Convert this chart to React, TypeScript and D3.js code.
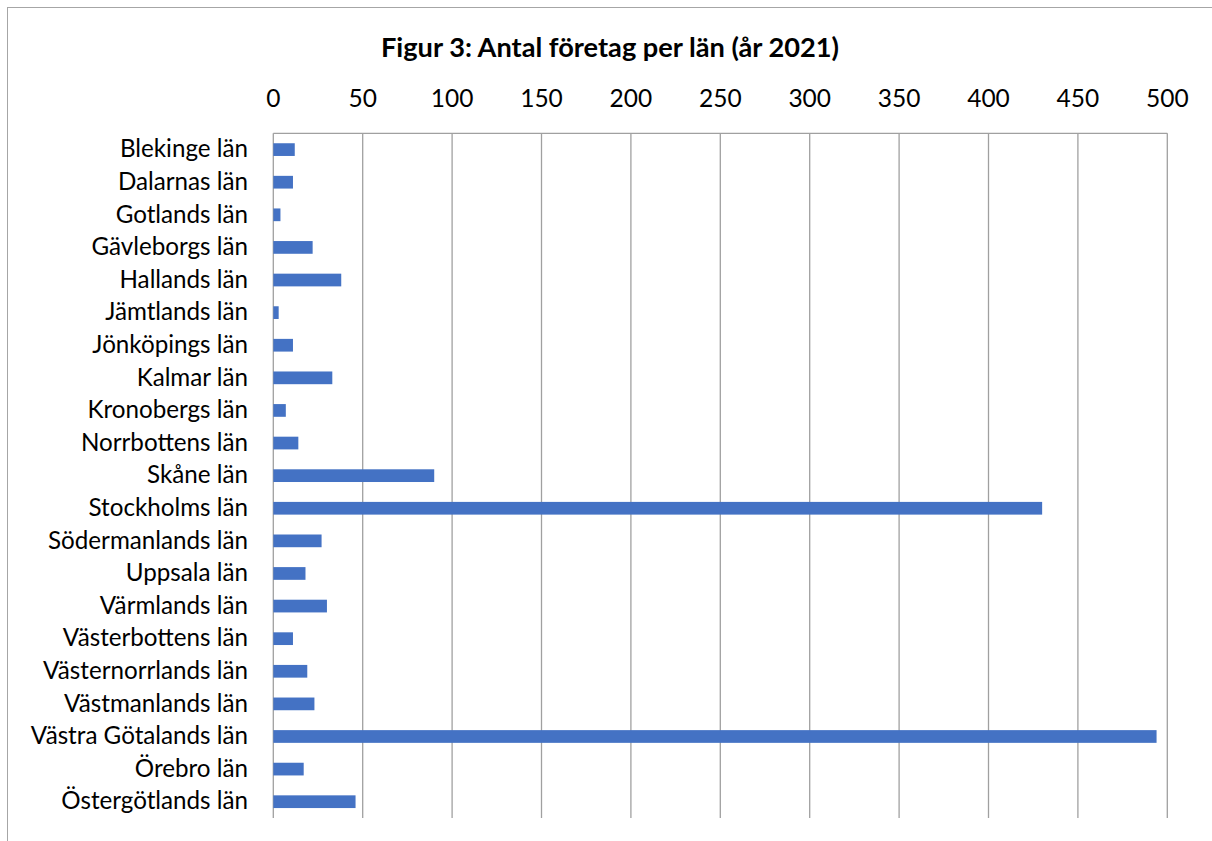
import React from "react";
import * as d3 from "d3";

const categories = [
  "Blekinge län",
  "Dalarnas län",
  "Gotlands län",
  "Gävleborgs län",
  "Hallands län",
  "Jämtlands län",
  "Jönköpings län",
  "Kalmar län",
  "Kronobergs län",
  "Norrbottens län",
  "Skåne län",
  "Stockholms län",
  "Södermanlands län",
  "Uppsala län",
  "Värmlands län",
  "Västerbottens län",
  "Västernorrlands län",
  "Västmanlands län",
  "Västra Götalands län",
  "Örebro län",
  "Östergötlands län",
];
const values = [12, 11, 4, 22, 38, 3, 11, 33, 7, 14, 90, 430, 27, 18, 30, 11, 19, 23, 494, 17, 46];
const ticks = [0, 50, 100, 150, 200, 250, 300, 350, 400, 450, 500];
const title = "Figur 3: Antal företag per län (år 2021)";

const W = 1212;
const H = 841;
const left = 273.3;
const right = 1167.3;
const top = 133.3;
const bottom = 818;
const font = "Lato, 'Open Sans', sans-serif";

export default function App() {
  const x = d3.scaleLinear().domain([0, 500]).range([left, right]);
  const y = d3.scaleBand<string>().domain(categories).range([top, bottom]).paddingInner(0.61).paddingOuter(0.305);
  return (
    <svg width={W} height={H} style={{ position: "absolute", left: 0, top: 0 }} fontFamily={font}>
      <rect x={0} y={0} width={W} height={H} fill="#fff" />
      <rect x={7.5} y={7.5} width={W + 10} height={H + 10} fill="none" stroke="#a6a6a6" strokeWidth={1} />
      <text x={610} y={57} textAnchor="middle" fontWeight="bold" fontSize={27.2} fill="#000">
        {title}
      </text>
      {ticks.map((t) => (
        <g key={t}>
          <line x1={x(t)} x2={x(t)} y1={top} y2={bottom} stroke="#a0a0a0" strokeWidth={1.3} />
          <text x={x(t)} y={107} textAnchor="middle" fontSize={24.5} fill="#000">
            {t}
          </text>
        </g>
      ))}
      <line x1={left} x2={right} y1={top} y2={top} stroke="#a0a0a0" strokeWidth={1.3} />
      {categories.map((c, i) => (
        <g key={c}>
          <rect x={x(0)} y={y(c)} width={x(values[i]) - x(0)} height={y.bandwidth()} fill="#4472c4" />
          <text x={248} y={(y(c) as number) + y.bandwidth() / 2 + 7.8} textAnchor="end" fontSize={24.2} fill="#000">
            {c}
          </text>
        </g>
      ))}
    </svg>
  );
}
